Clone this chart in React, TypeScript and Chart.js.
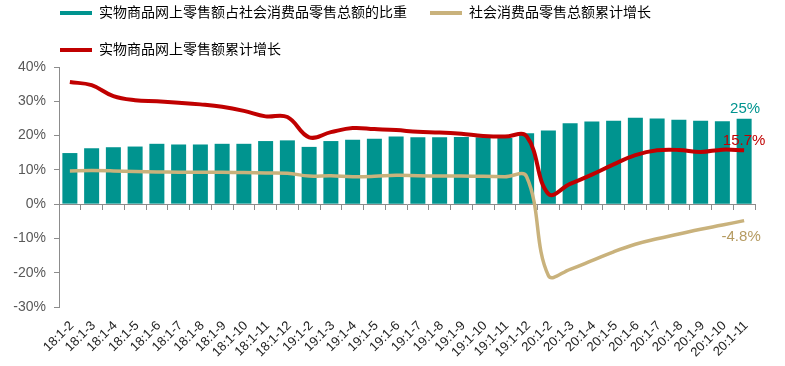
import React, { useEffect, useRef } from "react";
import { Chart, registerables } from "chart.js";

Chart.register(...registerables);

const categories = [
  "18:1-2", "18:1-3", "18:1-4", "18:1-5", "18:1-6", "18:1-7", "18:1-8", "18:1-9", "18:1-10", "18:1-11", "18:1-12",
  "19:1-2", "19:1-3", "19:1-4", "19:1-5", "19:1-6", "19:1-7", "19:1-8", "19:1-9", "19:1-10", "19:1-11", "19:1-12",
  "20:1-2", "20:1-3", "20:1-4", "20:1-5", "20:1-6", "20:1-7", "20:1-8", "20:1-9", "20:1-10", "20:1-11",
];

// 实物商品网上零售额占社会消费品零售总额的比重 (%)
const shareValues = [
  14.9, 16.3, 16.6, 16.8, 17.6, 17.4, 17.4, 17.6, 17.6, 18.4, 18.6,
  16.7, 18.4, 18.8, 19.1, 19.7, 19.5, 19.5, 19.6, 19.5, 19.3, 20.7,
  21.5, 23.6, 24.1, 24.3, 25.2, 25.0, 24.6, 24.3, 24.2, 24.9,
];

// 社会消费品零售总额累计增长 (%)
const retailGrowth = [
  9.7, 9.8, 9.7, 9.5, 9.4, 9.3, 9.3, 9.3, 9.2, 9.1, 9.0,
  8.2, 8.3, 8.0, 8.1, 8.4, 8.3, 8.2, 8.2, 8.1, 8.0, 8.0,
  -20.8, -19.0, -16.5, -13.9, -11.7, -10.1, -8.7, -7.3, -6.1, -4.8,
];

// 实物商品网上零售额累计增长 (%)
const onlineGrowth = [
  35.6, 34.7, 31.5, 30.3, 30.0, 29.6, 29.1, 28.4, 27.2, 25.6, 25.4,
  19.5, 21.0, 22.2, 21.9, 21.6, 21.1, 20.9, 20.5, 19.9, 19.7, 19.8,
  3.0, 5.9, 8.6, 11.6, 14.3, 15.7, 15.8, 15.2, 15.9, 15.7,
];

const seriesNames = [
  "实物商品网上零售额占社会消费品零售总额的比重",
  "社会消费品零售总额累计增长",
  "实物商品网上零售额累计增长",
];

const Y_MIN = -30;
const Y_MAX = 40;
const Y_STEP = 10;

const TEAL = "#00948F";
const TAN = "#C9B27C";
const RED = "#C00000";
const AXIS = "#8c8c8c";
const FONT = "'Liberation Sans', 'Noto Sans CJK SC', Arial, sans-serif";

const endLabels = {
  id: "endLabels",
  afterDatasetsDraw(chart: any) {
    const ctx = chart.ctx;
    const specs = [
      { ds: 0, fmt: (v: number) => Math.round(v) + "%", color: TEAL, dx: 1, dy: -10 },
      { ds: 2, fmt: (v: number) => v.toFixed(1) + "%", color: RED, dx: 0, dy: -9 },
      { ds: 1, fmt: (v: number) => v.toFixed(1) + "%", color: "#B59B61", dx: -3, dy: 16 },
    ];
    ctx.save();
    ctx.textAlign = "center";
    ctx.textBaseline = "middle";
    ctx.font = "15px " + FONT;
    for (const s of specs) {
      const meta = chart.getDatasetMeta(s.ds);
      const data = chart.data.datasets[s.ds].data as number[];
      const i = data.length - 1;
      const el = meta.data[i];
      if (!el) continue;
      ctx.fillStyle = s.color;
      ctx.fillText(s.fmt(data[i]), el.x + s.dx, el.y + s.dy);
    }
    ctx.restore();
  },
};

// shift the legend so that its rows start just right of the y axis line
const legendOffset = {
  id: "legendOffset",
  afterLayout(chart: any) {
    if (chart.legend) {
      chart.legend.left = 37;
    }
  },
};

export default function App() {
  const ref = useRef<HTMLCanvasElement | null>(null);

  useEffect(() => {
    if (!ref.current) return;
    const colors = [TEAL, TAN, RED];
    const chart = new Chart(ref.current, {
      type: "bar",
      data: {
        labels: categories,
        datasets: [
          {
            type: "bar",
            label: seriesNames[0],
            data: shareValues,
            backgroundColor: TEAL,
            barPercentage: 0.69,
            categoryPercentage: 1,
            order: 3,
          },
          {
            type: "line",
            label: seriesNames[1],
            data: retailGrowth,
            borderColor: TAN,
            backgroundColor: TAN,
            borderWidth: 3.5,
            pointRadius: 0,
            tension: 0.4,
            order: 2,
          },
          {
            type: "line",
            label: seriesNames[2],
            data: onlineGrowth,
            borderColor: RED,
            backgroundColor: RED,
            borderWidth: 4,
            pointRadius: 0,
            tension: 0.4,
            order: 1,
          },
        ] as any,
      },
      options: {
        animation: false,
        responsive: false,
        maintainAspectRatio: false,
        layout: { padding: { left: 0, right: 30, top: 0, bottom: 0 } },
        plugins: {
          tooltip: { enabled: false },
          legend: {
            position: "top",
            align: "start",
            labels: {
              boxWidth: 32,
              boxHeight: 4,
              padding: 23,
              color: "#333",
              font: { size: 14, family: FONT },
              generateLabels: (c: any) =>
                c.data.datasets.map((d: any, i: number) => ({
                  text: d.label,
                  fillStyle: colors[i],
                  strokeStyle: colors[i],
                  lineWidth: 0,
                  hidden: false,
                  datasetIndex: i,
                })),
            },
          },
        },
        scales: {
          x: {
            type: "category",
            position: "bottom",
            offset: true,
            grid: { display: false, drawTicks: false },
            border: { display: false },
            ticks: {
              autoSkip: false,
              maxRotation: 45,
              minRotation: 45,
              padding: 11,
              labelOffset: 2,
              color: "#222",
              font: { size: 13, family: FONT },
            },
            afterFit: (s: any) => {
              s.height = 59;
            },
          },
          x2: {
            type: "category",
            axis: "x",
            position: { y: 0 },
            offset: true,
            grid: { offset: true, drawOnChartArea: false, drawTicks: true, tickLength: 5, color: AXIS },
            border: { color: AXIS, width: 1 },
            ticks: { display: false },
          },
          y: {
            min: Y_MIN,
            max: Y_MAX,
            ticks: {
              stepSize: Y_STEP,
              padding: 8,
              color: "#595959",
              font: { size: 14, family: FONT },
              callback: (v: any) => v + "%",
            },
            grid: { drawOnChartArea: false, drawTicks: true, tickLength: 5, color: AXIS },
            border: { color: AXIS, width: 1 },
            afterFit: (s: any) => {
              s.width = 59;
            },
          },
        } as any,
      },
      plugins: [endLabels, legendOffset],
    });
    return () => chart.destroy();
  }, []);

  return (
    <div style={{ position: "absolute", left: 0, top: -17, width: 785, height: 383 }}>
      <canvas ref={ref} width={785} height={383} style={{ display: "block" }} />
    </div>
  );
}
